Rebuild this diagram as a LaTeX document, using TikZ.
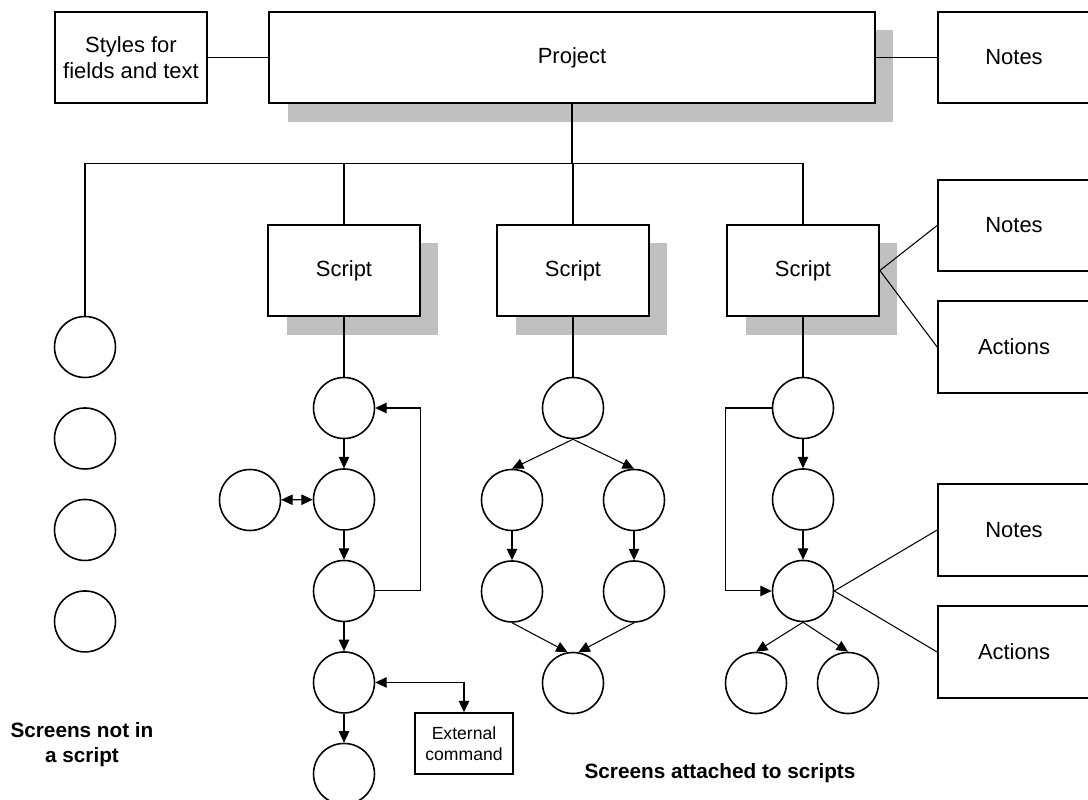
\documentclass[tikz,border=0pt]{standalone}
\usepackage{fontspec}
\setmainfont{Liberation Sans}
\usepackage{tikz}
\usetikzlibrary{arrows.meta,shadows,positioning}
\definecolor{shadowgray}{RGB}{192,192,192}

\begin{document}
\begin{tikzpicture}[x=0.02cm,y=-0.02cm,>={Triangle[length=6.5pt,width=6pt]},
                    node distance=1.83cm,
                    box/.style={draw,line width=1pt,fill=white,align=center,
                                minimum width=3.04cm,minimum height=1.83cm,
                                font=\fontsize{12.5}{15}\selectfont},
                    shade/.style={drop shadow={shadow xshift=0.37cm,shadow yshift=-0.37cm,
                                               fill=shadowgray,opacity=1}},
                    screen/.style={circle,draw,line width=0.9pt,fill=white,
                                   minimum size=1.22cm,inner sep=0pt},
                    link/.style={line width=0.6pt},
                    caption/.style={align=center,font=\fontsize{11.8}{14.2}\selectfont\bfseries}]

  \useasboundingbox (0,0) rectangle (1088,800);

  \node[box]                             (styles)   at (131,57.5) {Styles for\\fields and text};
  \node[box,shade,minimum width=12.12cm] (proj)     at (572,57.5) {Project};
  \node[box]                             (notes)    at (1014,57.5) {Notes};

  \node[box,shade] (s1) at (344,270.5) {Script};
  \node[box,shade] (s2) at (573,270.5) {Script};
  \node[box,shade] (s3) at (803,270.5) {Script};

  \node[box] (notes2)   at (1014,225.5) {Notes};
  \node[box] (actions2) at (1014,347)   {Actions};
  \node[box] (notes3)   at (1014,530)   {Notes};
  \node[box] (actions3) at (1014,652)   {Actions};

  % screens not in a script
  \node[screen] (l1) at (85,347) {};
  \node[screen] (l2) [below of=l1] {};
  \node[screen] (l3) [below of=l2] {};
  \node[screen] (l4) [below of=l3] {};

  % first script
  \node[screen] (a1) at (344,408) {};
  \node[screen] (a2) [below of=a1] {};
  \node[screen] (a3) [below of=a2] {};
  \node[screen] (a4) [below of=a3] {};
  \node[screen] (a5) [below of=a4] {};
  \node[screen] (aside) at (250,500) {};
  \node[draw,line width=0.9pt,align=center,minimum width=1.96cm,minimum height=1.22cm,
        font=\fontsize{10}{11.7}\selectfont] (ext) at (464,743.5) {External\\command};

  % second script
  \node[screen] (b1) at (573,408) {};
  \node[screen] (b2) at (512,500) {};
  \node[screen] (b3) at (634,500) {};
  \node[screen] (b4) [below of=b2] {};
  \node[screen] (b5) [below of=b3] {};
  \node[screen] (b6) at (573,683) {};

  % third script
  \node[screen] (c1) at (803,408) {};
  \node[screen] (c2) [below of=c1] {};
  \node[screen] (c3) [below of=c2] {};
  \node[screen] (c4) at (756,683) {};
  \node[screen] (c5) at (848,683) {};

  \node[caption] (lone)     at (82,744.5) {Screens not in\\a script};
  \node[caption] (attached) at (720,773)  {Screens attached to scripts};

  \coordinate (bus) at (0,163.5);

  \path[link] (styles) edge (proj)
              (proj)   edge (notes);
  \draw[link] (proj.south) -- (proj.south |- bus);
  \draw[link] (l1.north) -- (l1.north |- bus) -- (s3.north |- bus) -- (s3.north);
  \draw[link] (s1.north) -- (s1.north |- bus);
  \draw[link] (s2.north) -- (s2.north |- bus);
  \draw[link] (notes2.west) -- (s3.east) -- (actions2.west);

  \path[link] (s1) edge (a1)
              (s2) edge (b1)
              (s3) edge (c1);

  \path[link,->] (a1) edge (a2)
                 (a2) edge (a3)
                 (a3) edge (a4)
                 (a4) edge (a5)
                 (aside) edge[<->] (a2);
  \draw[link,->] (a3.east) -- ++(45,0) |- (a1.east);
  \draw[link,<->] (a4.east) -| (ext.north);

  \path[link,->] (b1.south) edge (b2.north)
                            edge (b3.north)
                 (b2) edge (b4)
                 (b3) edge (b5)
                 (b4.south) edge (b6.100)
                 (b5.south) edge (b6.80);

  \path[link,->] (c1) edge (c2)
                 (c2) edge (c3)
                 (c3.south) edge (c4.north)
                            edge (c5.north);
  \draw[link,->] (c1.west) -- ++(-46,0) |- (c3.west);
  \draw[link] (notes3.west) -- (c3.east) -- (actions3.west);
\end{tikzpicture}
\end{document}
